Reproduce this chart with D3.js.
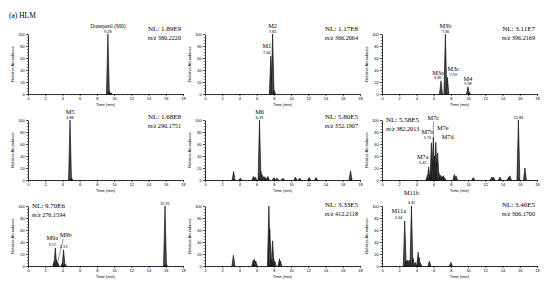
<!DOCTYPE html>
<html>
<head>
<meta charset="utf-8">
<script src="https://cdn.jsdelivr.net/npm/d3@7"></script>
<style>
  body { margin: 0; background: #fff; }
  .tick text { font-family: "Liberation Sans", Arial, sans-serif; }
</style>
</head>
<body>
<div id="chart"></div>
<script>
// ---- data ----
const timeTicks = [0, 2, 4, 6, 8, 10, 12, 14, 16, 18];
const abundTicks = [0, 20, 40, 60, 80, 100];

const nlValues = ["1.89E9", "1.17E8", "3.11E7", "1.68E8", "5.80E5", "5.58E5", "9.70E6", "3.33E5", "3.46E5"];
const mzValues = ["380.2220", "366.2064", "396.2169", "290.1751", "352.1907", "382.2013", "276.1594", "412.2118", "306.1700"];

// peaks: [retention time (min), relative abundance]
const peaksM0 = [[9.28, 100], [9.42, 5], [9.6, 1.5]];
const peaksM1M2 = [[7.64, 63], [7.85, 100], [8.02, 6]];
const peaksM3M4 = [[6.85, 22], [7.36, 100], [7.59, 28], [9.98, 12], [10.15, 2]];
const peaksM5 = [[4.88, 100], [5.05, 3]];
const peaksM6 = [[3.32, 14], [4.1, 3], [5.62, 6], [5.85, 5], [6.33, 100], [6.48, 15], [6.62, 9], [6.85, 6],
  [7.05, 4], [7.3, 6], [8.0, 4], [8.35, 3], [9.05, 3], [10.5, 5], [11.0, 3], [12.1, 4], [12.9, 4], [16.9, 15]];
const peaksM7 = [[5.28, 8], [5.42, 22], [5.6, 10], [5.74, 62], [5.85, 30], [5.96, 72], [6.1, 40], [6.25, 63],
  [6.35, 30], [6.46, 45], [6.6, 12], [6.8, 8], [6.95, 6], [7.1, 7], [7.25, 4], [8.4, 9], [8.6, 7], [10.6, 4],
  [12.75, 5], [12.95, 5], [13.7, 5], [14.7, 5], [14.85, 7], [15.84, 100], [16.6, 20]];
const peaksM9 = [[3.05, 8], [3.17, 30], [3.3, 10], [3.45, 6], [4.0, 5], [4.13, 27], [4.3, 3], [15.91, 100], [16.05, 2]];
const peaksUnk = [[3.3, 18], [5.6, 10], [5.75, 11], [5.9, 8], [7.42, 100], [7.52, 62], [7.65, 10], [7.85, 42],
  [7.95, 12], [8.1, 8], [8.65, 12], [8.75, 8]];
const peaksM11 = [[2.64, 75], [2.8, 8], [2.95, 10], [3.15, 10], [3.42, 100], [3.6, 13], [3.85, 6], [4.2, 23],
  [4.3, 14], [4.45, 5], [5.5, 8], [8.0, 6]];

// peak labels: [name, rt label, rt, height]
const labelsM0 = [["Donepezil (M0)", "9.28", 9.28, 100]];
const labelsM1M2 = [["M1", "7.64", 7.64, 63], ["M2", "7.85", 7.85, 100]];
const labelsM3M4 = [["M3a", "6.85", 6.85, 22], ["M3b", "7.36", 7.36, 100], ["M3c", "7.59", 7.59, 28], ["M4", "9.98", 9.98, 12]];
const labelsM5 = [["M5", "4.88", 4.88, 100]];
const labelsM6 = [["M6", "6.33", 6.33, 100]];
const labelsM7 = [["M7a", "5.42", 5.42, 22], ["M7b", "5.74", 5.74, 62], ["M7c", "", 5.96, 72], ["M7e", "", 6.25, 63],
  ["M7d", "", 6.46, 45], ["", "15.84", 15.84, 100]];
const labelsM9 = [["M9a", "3.17", 3.17, 30], ["M9b", "", 3.45, 6], ["", "4.13", 4.13, 27], ["", "15.91", 15.91, 100]];
const labelsUnk = [];
const labelsM11 = [["M11a", "2.64", 2.64, 75], ["M11b", "3.42", 3.42, 100]];

const allPeaks = [peaksM0, peaksM1M2, peaksM3M4, peaksM5, peaksM6, peaksM7, peaksM9, peaksUnk, peaksM11];
const allLabels = [labelsM0, labelsM1M2, labelsM3M4, labelsM5, labelsM6, labelsM7, labelsM9, labelsUnk, labelsM11];

// ---- layout ----
const W = 550, H = 291;
const colX = [28, 205, 382];
const rowBottom = [94, 180, 266];
const plotW = 155, plotH = 60;
const serif = "'Liberation Serif', 'Times New Roman', serif";
const sans = "'Liberation Sans', Arial, sans-serif";

// label nudges (px): name dx, name dy, rt dy, pointer line
const labelNudge = {
  "Donepezil (M0)": [0, -6.5, -1.5],
  "M1": [-4, -8, -2.5],
  "M3a": [-3, -6, -1.5],
  "M3c": [6, -6, -1.5],
  "M4": [0, -6, -1.5],
  "M7a": [-6, -8, -2.5],
  "M7b": [-4, -9, -4],
  "M7c": [0, -17, 0, true],
  "M7e": [7, -12, 0],
  "M7d": [10, -14, 0],
  "M9a": [-3, -8, -2],
  "M9b": [8, -25, 0, true],
  "M11a": [-6, -8, -2.5],
  "M11b": [0, -11, -2.5]
};

const svg = d3.select("#chart").append("svg")
  .attr("width", W).attr("height", H)
  .style("background", "#fff");

svg.append("text")
  .attr("x", 9).attr("y", 17.5)
  .attr("font-family", serif).attr("font-size", 7.5)
  .text("(a) HLM");

const halfW = 0.17;

allPeaks.forEach(function (peaks, i) {
  const col = i % 3, row = Math.floor(i / 3);
  const x0 = colX[col], bottom = rowBottom[row], top = bottom - plotH;
  const x = d3.scaleLinear().domain([0, 18]).range([x0, x0 + plotW]);
  const y = d3.scaleLinear().domain([0, 100]).range([bottom, top]);
  const g = svg.append("g");

  // peaks
  const area = d3.area()
    .x(function (d) { return x(d[0]); })
    .y0(bottom)
    .y1(function (d) { return y(d[1]); });
  g.selectAll(".peak")
    .data(peaks)
    .enter()
    .append("path")
    .attr("class", "peak")
    .attr("d", function (p) {
      return area([[p[0] - halfW, 0], [p[0], p[1]], [p[0] + halfW, 0]]);
    })
    .attr("fill", "#4a4a4a")
    .attr("stroke", "#000")
    .attr("stroke-width", 0.6);

  // x axis (minor then major)
  g.append("g")
    .attr("transform", "translate(0," + bottom + ")")
    .call(d3.axisBottom(x).tickValues(d3.range(0, 18.01, 0.5)).tickSize(1.2).tickSizeOuter(0).tickFormat(""))
    .call(function (a) { a.select(".domain").remove(); a.selectAll("line").attr("stroke-width", 0.5); });
  g.append("g")
    .attr("transform", "translate(0," + bottom + ")")
    .call(d3.axisBottom(x).tickValues(timeTicks).tickSize(2.2).tickSizeOuter(0).tickPadding(1))
    .call(function (a) {
      a.select(".domain").attr("stroke-width", 0.8);
      a.selectAll("line").attr("stroke-width", 0.6);
      a.selectAll("text").attr("font-size", 4);
    });

  // y axis
  g.append("g")
    .attr("transform", "translate(" + x0 + ",0)")
    .call(d3.axisLeft(y).tickValues(d3.range(0, 100.1, 5)).tickSize(1.2).tickSizeOuter(0).tickFormat(""))
    .call(function (a) { a.select(".domain").remove(); a.selectAll("line").attr("stroke-width", 0.5); });
  g.append("g")
    .attr("transform", "translate(" + x0 + ",0)")
    .call(d3.axisLeft(y).tickValues(abundTicks).tickSize(2.2).tickSizeOuter(0).tickPadding(1))
    .call(function (a) {
      a.select(".domain").attr("stroke-width", 0.8);
      a.selectAll("line").attr("stroke-width", 0.6);
      a.selectAll("text").attr("font-size", 4);
    });

  // axis titles
  g.append("text")
    .attr("x", x0 + plotW / 2).attr("y", bottom + 12)
    .attr("text-anchor", "middle")
    .attr("font-family", sans).attr("font-size", 4)
    .text("Time (min)");
  g.append("text")
    .attr("transform", "translate(" + (x0 - 14) + "," + (bottom - plotH / 2) + ") rotate(-90)")
    .attr("text-anchor", "middle")
    .attr("font-family", sans).attr("font-size", 4)
    .text("Relative Abundance");

  // NL / m/z
  const leftSide = (i === 5 || i === 6);
  const nlX = leftSide ? x0 + 4 : x0 + plotW - 2;
  const nlY = leftSide ? top + 2 : top + [-3, -1.5, 1][row];
  const anchor = leftSide ? "start" : "end";
  g.append("text")
    .attr("x", nlX).attr("y", nlY)
    .attr("text-anchor", anchor)
    .attr("font-family", serif).attr("font-size", 7)
    .text("NL: " + nlValues[i]);
  const mz = g.append("text")
    .attr("x", nlX).attr("y", nlY + 9)
    .attr("text-anchor", anchor)
    .attr("font-family", serif).attr("font-size", 6.2);
  mz.append("tspan").attr("font-style", "italic").text("m/z");
  mz.append("tspan").text(" " + mzValues[i]);

  // peak labels
  allLabels[i].forEach(function (l) {
    const nudge = labelNudge[l[0]] || [0, -6.5, -1.5];
    const px = x(l[2]), py = y(l[3]);
    if (l[0]) {
      g.append("text")
        .attr("x", px + nudge[0]).attr("y", py + nudge[1])
        .attr("text-anchor", "middle")
        .attr("font-family", serif).attr("font-size", l[0].length > 5 ? 5.5 : 6.3)
        .text(l[0]);
      if (nudge[3]) {
        g.append("line")
          .attr("x1", px + nudge[0] * 0.7).attr("y1", py + nudge[1] + 1.5)
          .attr("x2", px).attr("y2", py - 0.5)
          .attr("stroke", "#000").attr("stroke-width", 0.4);
      }
    }
    if (l[1]) {
      const rtDx = l[0] ? nudge[0] : 0;
      g.append("text")
        .attr("x", px + rtDx).attr("y", py + (l[0] ? nudge[2] : -1.5))
        .attr("text-anchor", "middle")
        .attr("font-family", sans).attr("font-size", 3.8)
        .text(l[1]);
    }
  });
});
</script>
</body>
</html>
